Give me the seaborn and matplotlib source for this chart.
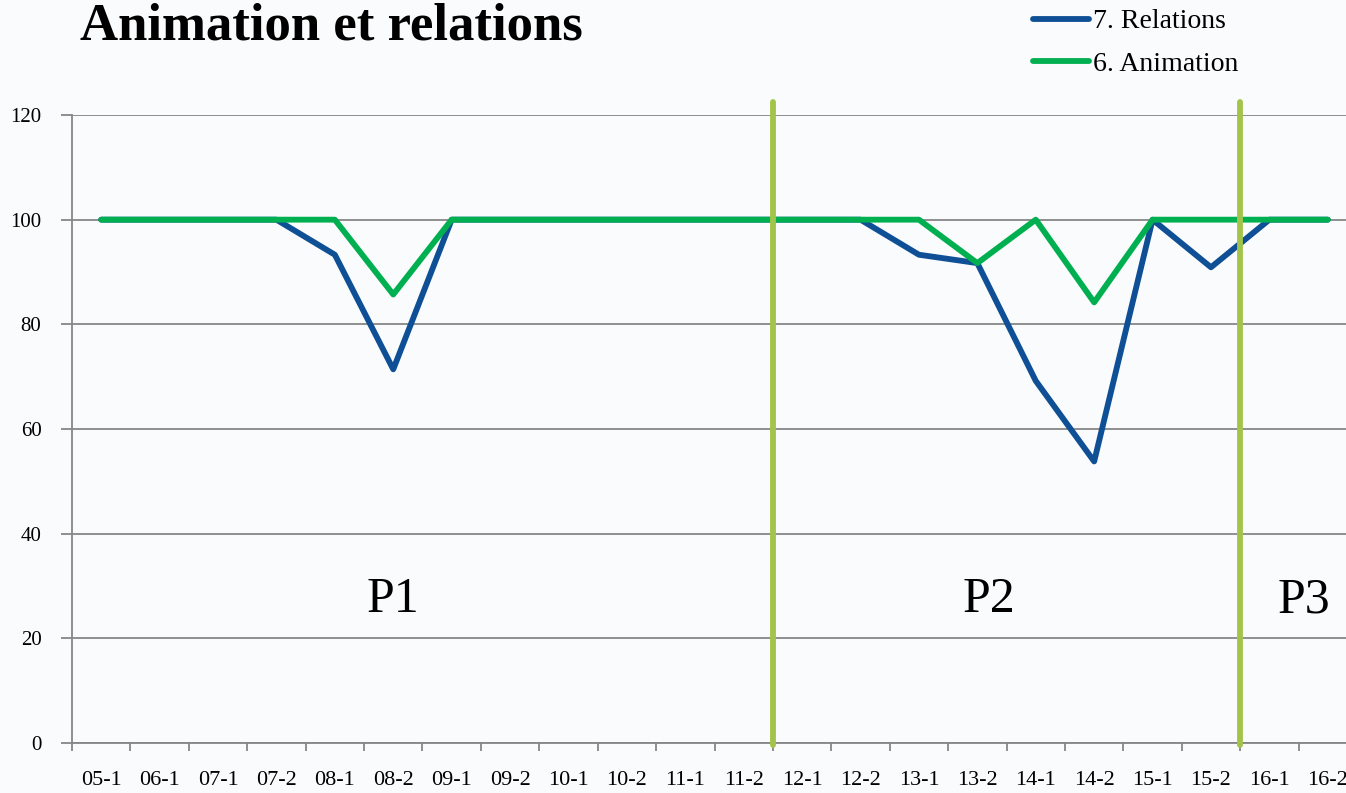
import pandas as pd
import seaborn as sns
import matplotlib
matplotlib.use('Agg')
import matplotlib.pyplot as plt

periods = ['05-1', '06-1', '07-1', '07-2', '08-1', '08-2', '09-1', '09-2',
           '10-1', '10-2', '11-1', '11-2', '12-1', '12-2', '13-1', '13-2',
           '14-1', '14-2', '15-1', '15-2', '16-1', '16-2']
relations = [100, 100, 100, 100, 93.3, 71.4, 100, 100, 100, 100, 100, 100,
             100, 100, 93.3, 91.7, 69.2, 53.8, 100, 90.9, 100, 100]
animation = [100, 100, 100, 100, 100, 85.7, 100, 100, 100, 100, 100, 100,
             100, 100, 100, 91.7, 100, 84.2, 100, 100, 100, 100]
series_names = ['7. Relations', '6. Animation']
y_ticks = [0, 20, 40, 60, 80, 100, 120]
phase_breaks = [11.5, 19.5]
phase_labels = [('P1', 5.0), ('P2', 15.2), ('P3', 20.6)]

df = pd.DataFrame({'periode': periods * 2,
                   'x': list(range(len(periods))) * 2,
                   'valeur': relations + animation,
                   'serie': [series_names[0]] * len(periods) + [series_names[1]] * len(periods)})

sns.set_style('white')
plt.rcParams['font.family'] = ['Liberation Serif', 'DejaVu Serif']
plt.rcParams['text.color'] = 'black'
plt.rcParams['xtick.labelcolor'] = 'black'
plt.rcParams['ytick.labelcolor'] = 'black'

W, H = 1346, 793
fig = plt.figure(figsize=(W / 100, H / 100), dpi=100)
fig.patch.set_facecolor('#FAFBFC')
# axis runs past the right edge, like the original slide
ax = fig.add_axes([72 / W, (H - 743) / H, (1357 - 72) / W, (743 - 115) / H])
ax.set_facecolor('#FAFBFC')

palette = {series_names[0]: '#0E4F95', series_names[1]: '#00B050'}
sns.lineplot(data=df, x='x', y='valeur', hue='serie', palette=palette,
             linewidth=4.2, ax=ax, legend=True)

ax.set_xlim(-0.5, len(periods) - 0.5)
ax.set_ylim(0, 120)
ax.set_yticks(y_ticks)
ax.set_yticklabels([str(v) for v in y_ticks], fontsize=15)
ax.set_xticks(range(len(periods)))
ax.set_xticklabels(periods, fontsize=16)
ax.set_xticks([i + 0.5 for i in range(-1, len(periods))], minor=True)
ax.tick_params(axis='x', which='major', bottom=True, length=0, pad=20)
ax.tick_params(axis='x', which='minor', bottom=True, length=6, width=1.3,
               color='#868686', direction='out')
ax.tick_params(axis='y', left=True, length=8, width=1.3, color='#868686',
               direction='out', pad=14)
ax.grid(axis='y', color='#868686', linewidth=1.3)
ax.set_axisbelow(True)
for side in ['top', 'right']:
    ax.spines[side].set_visible(False)
for side in ['left', 'bottom']:
    ax.spines[side].set_color('#868686')
    ax.spines[side].set_linewidth(1.3)
ax.set_xlabel('')
ax.set_ylabel('')

for xb in phase_breaks:
    ax.axvline(xb, ymin=-0.003, ymax=1.02, color='#A2C44A', linewidth=4.2,
               clip_on=False, zorder=5)

for txt, xp in phase_labels:
    ax.text(xp, 27.3, txt, fontsize=36, ha='center', va='center', color='black')

fig.text(80 / W, 1 - 26 / H, 'Animation et relations', fontsize=38,
         fontweight='bold', va='center', ha='left', color='black')

handles, labels = ax.get_legend_handles_labels()
ax.legend(handles, labels, loc='upper left', bbox_to_anchor=(1008 / W, 1 + 16 / H),
          bbox_transform=fig.transFigure, frameon=False, fontsize=20,
          handlelength=2.0, handletextpad=0.15, labelspacing=0.6,
          labelcolor='black')

fig.savefig('out.png', dpi=100, facecolor=fig.get_facecolor())
